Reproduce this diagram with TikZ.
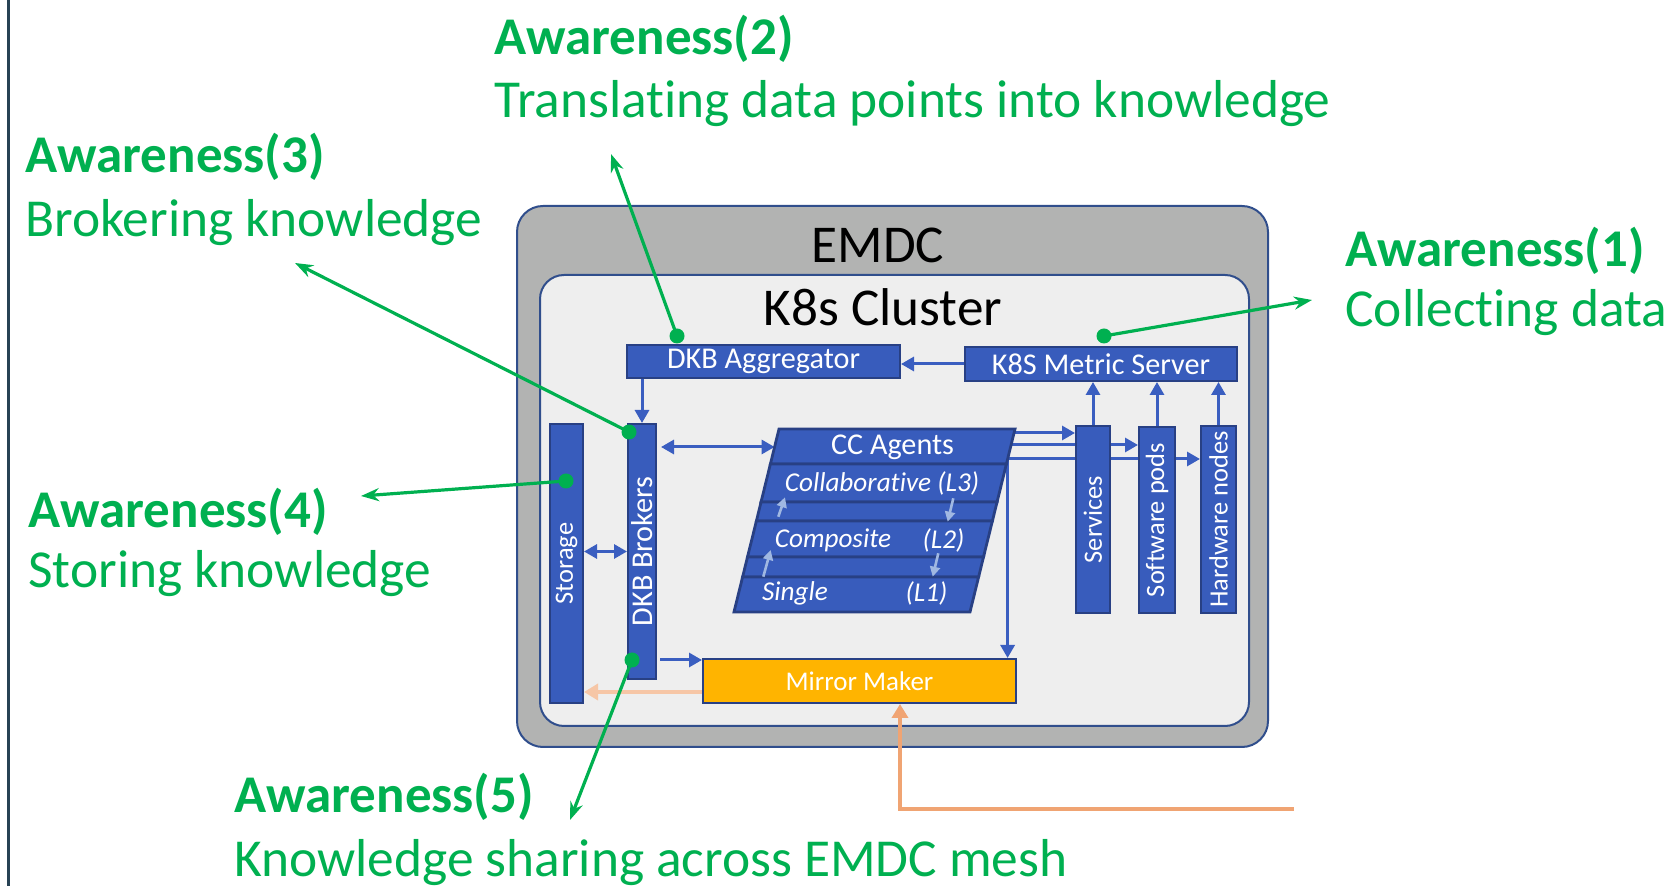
\documentclass[tikz,border=0pt]{standalone}
\usepackage{fontspec}
\setmainfont{Carlito}[Ligatures=NoCommon]
\usetikzlibrary{arrows.meta,calc}
\pgfdeclarelayer{bg}
\pgfdeclarelayer{wires}
\pgfsetlayers{bg,wires,main}

\definecolor{boxblue}{RGB}{56,92,188}
\definecolor{edgeblue}{RGB}{40,64,132}
\definecolor{wireblue}{RGB}{58,94,192}
\definecolor{frameblue}{RGB}{48,78,140}
\definecolor{shellgray}{RGB}{178,179,178}
\definecolor{clusterbg}{RGB}{238,238,238}
\definecolor{awgreen}{RGB}{0,176,80}
\definecolor{mmgold}{RGB}{255,180,0}
\definecolor{feedorange}{RGB}{240,164,115}
\definecolor{peach}{RGB}{246,198,166}
\definecolor{layerarrow}{RGB}{160,184,226}
\definecolor{sidebar}{RGB}{40,66,84}

\newcommand\fntTitle{\fontsize{26.6}{31}\selectfont}
\newcommand\fntBox{\fontsize{15.1}{18}\selectfont}
\newcommand\fntVert{\fontsize{13.2}{15}\selectfont}
\newcommand\fntLayer{\fontsize{13.6}{16}\selectfont\itshape}
\newcommand\fntMM{\fontsize{13.5}{16}\selectfont}

\tikzset{
  blk/.style={draw=edgeblue, line width=1pt, fill=boxblue, inner sep=0pt, text=white},
  vlabel/.style={rotate=90, text=white, inner sep=0pt},
  band/.style={fill=boxblue, draw=edgeblue, line width=1.4pt, line join=miter},
  wire/.style={wireblue, line width=1.5pt, -{Triangle[length=6.5pt,width=7pt]}},
  wireboth/.style={wireblue, line width=1.5pt, {Triangle[length=6.5pt,width=7pt]}-{Triangle[length=6.5pt,width=7pt]}},
  layerup/.style={layerarrow, line width=1.3pt, -{Triangle[length=5pt,width=5pt]}},
  peachwire/.style={peach, line width=2pt, -{Triangle[length=7pt,width=8pt]}},
  feedwire/.style={feedorange, line width=2pt, -{Triangle[length=7pt,width=8pt]}},
  aw/.style={awgreen, line width=1.6pt, -{Stealth[length=9pt,width=6.5pt]}},
  awdot/.style={fill=awgreen, circle, inner sep=0pt, minimum size=7.5pt},
  awhead/.style={anchor=base west, inner sep=0pt, text=awgreen, font=\fontsize{26.5}{31}\selectfont\bfseries},
  awtext/.style={anchor=base west, inner sep=0pt, text=awgreen, font=\fontsize{26.7}{31}\selectfont},
  lyr/.style={text=white, inner sep=0pt, font=\fntLayer}
}

\begin{document}
\begin{tikzpicture}[x=0.5pt,y=-0.5pt]
\useasboundingbox (0,0) rectangle (1666,886);

% left rule
\draw[sidebar, line width=1.5pt] (8,0) -- (8,886);

% EMDC shell and cluster
\begin{pgfonlayer}{bg}
\draw[frameblue, line width=1pt, fill=shellgray, rounded corners=13pt] (517,206) rectangle (1268,747);
\draw[frameblue, line width=1pt, fill=clusterbg, rounded corners=12pt] (540,275) rectangle (1249,726);
\end{pgfonlayer}

\node[font=\fntTitle] (emdc) at (878,245) {EMDC};
\node[font=\fntTitle] (k8s) at (883,307) {K8s Cluster};

% components
\node[blk, minimum width=136.5pt, minimum height=16.5pt, font=\fntBox] (agg) at (763.5,361.5) {DKB Aggregator};
\node[blk, minimum width=136pt, minimum height=17pt, font=\fntBox] (msrv) at (1101,364) {K8S Metric Server};
\node[blk, minimum width=16.5pt, minimum height=139.5pt,
      label={[vlabel, font=\fntVert]center:Storage}] (stor) at (566.5,563.5) {};
\node[blk, minimum width=14pt, minimum height=127.5pt,
      label={[vlabel, font=\fntBox]center:DKB Brokers}] (brok) at (642,551.5) {};
\node[blk, minimum width=17pt, minimum height=93.5pt,
      label={[vlabel, font=\fntVert]center:Services}] (svc) at (1093,519.5) {};
\node[blk, minimum width=18pt, minimum height=93pt,
      label={[vlabel, font=\fntVert]center:Software pods}] (pods) at (1157,520) {};
\node[blk, minimum width=17.5pt, minimum height=93.5pt,
      label={[vlabel, font=\fntVert]center:Hardware nodes}] (hw) at (1218.5,519.5) {};
\node[blk, fill=mmgold, minimum width=156.5pt, minimum height=22pt, font=\fntMM] (mm) at (859.5,681) {Mirror Maker};

% CC agents stack (slanted bands)
\draw[band] (779,429) -- (1015,429) -- (1006.4,464) -- (770.4,464) -- cycle;
\draw[band] (770.4,464) -- (1006.4,464) -- (997.05,502) -- (761.05,502) -- cycle;
\draw[band] (761.05,502) -- (997.05,502) -- (992.4,521) -- (756.4,521) -- cycle;
\draw[band] (756.4,521) -- (992.4,521) -- (983.5,557) -- (747.5,557) -- cycle;
\draw[band] (747.5,557) -- (983.5,557) -- (978.6,577) -- (742.6,577) -- cycle;
\draw[band] (742.6,577) -- (978.6,577) -- (970,612) -- (734,612) -- cycle;

\node[text=white, inner sep=0pt, font=\fntBox] (cc) at (892.5,447) {CC Agents};
\node[lyr] (l3) at (882,483) {Collaborative (L3)};
\node[lyr] (l2) at (833,540) {Composite};
\node[lyr] (l2tag) at (943.5,540) {(L2)};
\node[lyr] (l1) at (795,593) {Single};
\node[lyr] (l1tag) at (926.5,593) {(L1)};

% level transitions
\coordinate (u1a) at (763.3,576.7); \coordinate (u1b) at (770.7,550);
\coordinate (u2a) at (778.3,516.7); \coordinate (u2b) at (785,497.3);
\coordinate (d1a) at (953.3,498.3); \coordinate (d1b) at (947.7,521.7);
\coordinate (d2a) at (938.3,553.3); \coordinate (d2b) at (932.7,576.7);
\draw[layerup] (u1a) -- (u1b);
\draw[layerup] (u2a) -- (u2b);
\draw[layerup] (d1a) -- (d1b);
\draw[layerup] (d2a) -- (d2b);

% ports on the slanted stack
\coordinate (ccW) at (774.6,447);
\coordinate (ccE1) at (1014,433);
\coordinate (ccE2) at (1011,445);
\coordinate (ccE3) at (1007.6,459);
\coordinate (mmin) at ($(mm.north west)+(0,2)$);
\coordinate (mmlow) at ($(mm.south west)+(0,-12)$);
\coordinate (mmfeed) at ($(mm.south west)+(198,0)$);
\coordinate (meshin) at (1294,809);

\begin{pgfonlayer}{wires}
\draw[wire] (msrv.west) -- (msrv.west -| agg.east);
\draw[wire] (agg.south -| brok.north) -- (brok.north);
\draw[wireboth, shorten <=2pt] (brok.east |- ccW) -- (ccW);
\draw[wireboth] (stor.east |- brok.center) -- (brok.west);
\draw[wire, shorten <=1.5pt] (brok.east |- mmin) -- (mmin);
\draw[wire] (ccE1) -- (ccE1 -| svc.west);
\draw[wire] (ccE2) -- (ccE2 -| pods.west);
\draw[wire] (ccE3) -- (ccE3 -| hw.west);
\draw[wire] (ccE3) -- (ccE3 |- mm.north);
\draw[wire] (svc.north) -- (svc.north |- msrv.south);
\draw[wire] (pods.north) -- (pods.north |- msrv.south);
\draw[wire] (hw.north) -- (hw.north |- msrv.south);
\draw[peachwire] (mmlow) -- (mmlow -| stor.east);
\draw[feedwire] (meshin) -| (mmfeed);
\end{pgfonlayer}

% awareness call-outs
\node[awhead] (aw2) at (494,55) {Awareness(2)};
\node[awtext] (tx2) at (494,118) {Translating data points into knowledge};
\node[awhead] (aw3) at (25,173) {Awareness(3)};
\node[awtext] (tx3) at (25,237) {Brokering knowledge};
\node[awhead] (aw1) at (1345,267) {Awareness(1)};
\node[awtext] (tx1) at (1345,327) {Collecting data};
\node[awhead] (aw4) at (28,528) {Awareness(4)};
\node[awtext] (tx4) at (28,588) {Storing knowledge};
\node[awhead] (aw5) at (234,813) {Awareness(5)};
\node[awtext] (tx5) at (234,877) {Knowledge sharing across EMDC mesh};

\coordinate (t1) at (1312,300);
\coordinate (t2) at (611,154);
\coordinate (t3) at (295,263);
\coordinate (t4) at (361,496);
\coordinate (t5) at (570,820);

\node[awdot] (dot1) at (1104,336) {};
\node[awdot] (dot2) at (677,336) {};
\node[awdot] (dot3) at (629,432) {};
\node[awdot] (dot4) at (566,481) {};
\node[awdot] (dot5) at (632,660) {};

\draw[aw] (dot1.center) -- (t1);
\draw[aw] (dot2.center) -- (t2);
\draw[aw] (dot3.center) -- (t3);
\draw[aw] (dot4.center) -- (t4);
\draw[aw] (dot5.center) -- (t5);
\end{tikzpicture}
\end{document}
